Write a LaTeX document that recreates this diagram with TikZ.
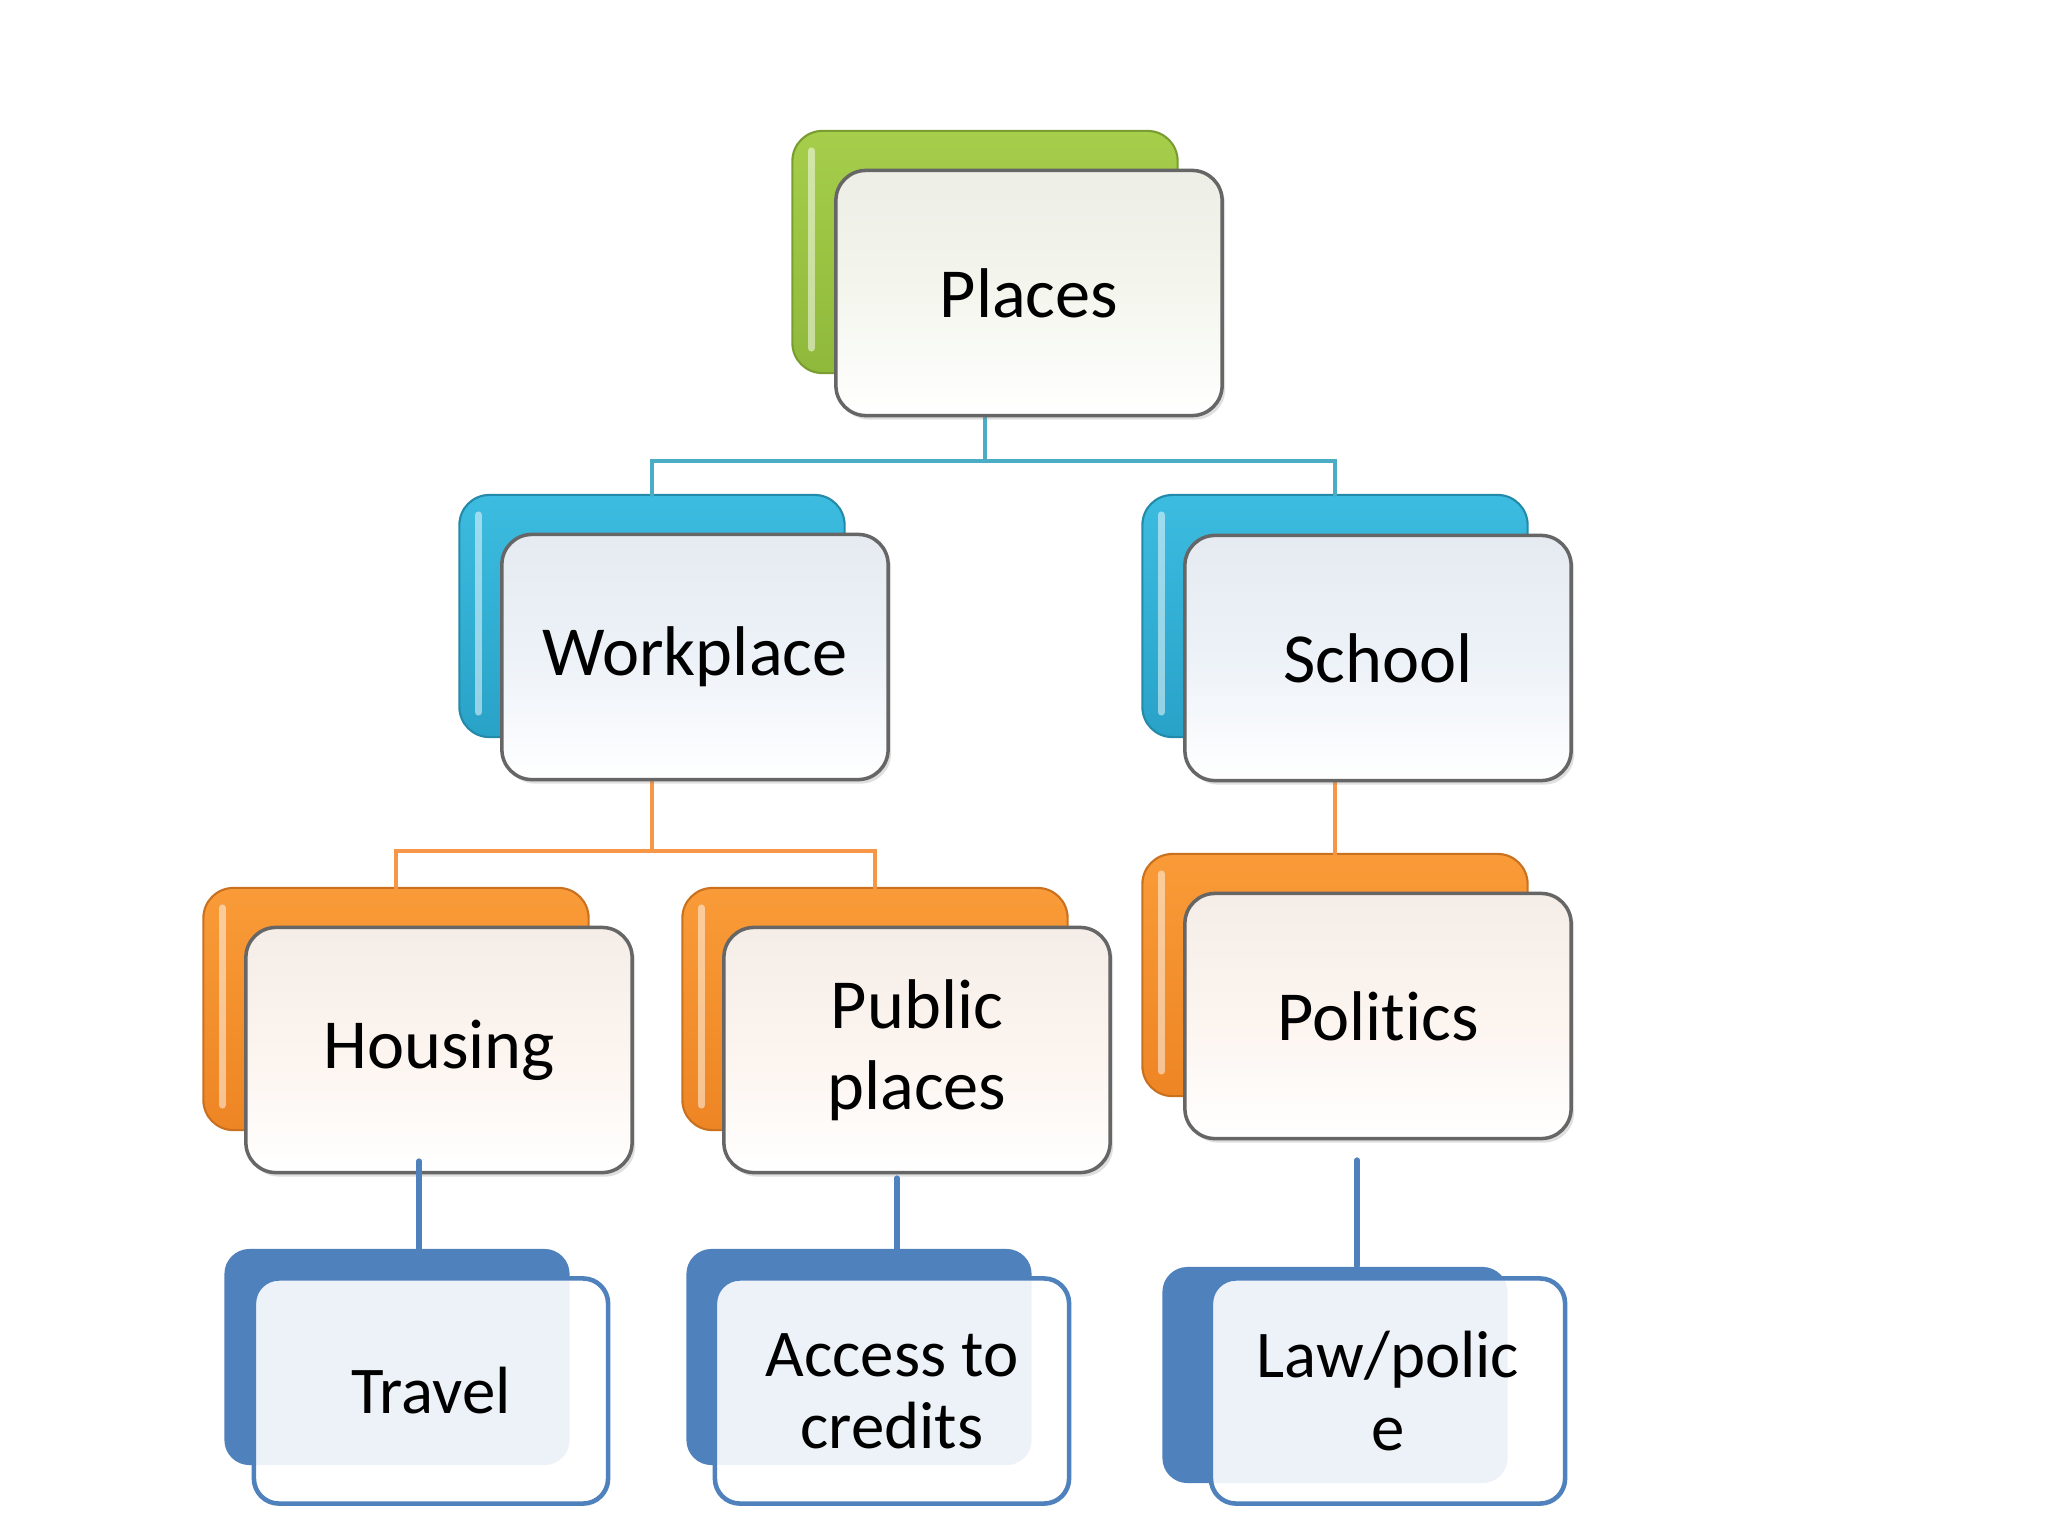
\documentclass[tikz,border=0pt]{standalone}
\usepackage{fontspec}
\setmainfont{Carlito}[Ligatures = NoCommon]
\usetikzlibrary{shadows}

\definecolor{placesgreen}{HTML}{A6CE4B}
\definecolor{placesgreendark}{HTML}{8FB93B}
\definecolor{tierblue}{HTML}{3CBCE0}
\definecolor{tierbluedark}{HTML}{29A2C8}
\definecolor{tierorange}{HTML}{F99B38}
\definecolor{tierorangedark}{HTML}{EE8524}
\definecolor{leafblue}{HTML}{4F81BD}
\definecolor{linkblue}{HTML}{4BACC6}
\definecolor{linkorange}{HTML}{F79646}
\definecolor{greentint}{HTML}{F4F6EE}
\definecolor{bluetint}{HTML}{EDF2F8}
\definecolor{orangetint}{HTML}{FCF4EF}

\begin{document}
\begin{tikzpicture}[%
        x = 0.01cm,
        y = -0.01cm,
        line cap = round,
        backcard/.style 2 args = {
            rounded corners = 0.3cm,
            minimum width = 3.85cm, minimum height = 2.42cm,
            inner sep = 0pt, outer sep = 0pt,
            top color = #1, bottom color = #2,
            draw = #2!85!black, line width = 0.6pt
        },
        frontcard/.style = {
            rounded corners = 0.3cm,
            minimum width = 3.86cm, minimum height = 2.45cm,
            inner sep = 0pt, outer sep = 0pt,
            top color = #1!97!black, bottom color = white, middle color = #1,
            draw = black!60, line width = 1pt,
            drop shadow = {shadow xshift = 0.03cm, shadow yshift = -0.04cm, opacity = 0.25},
            font = \fontsize{20}{23}\selectfont, align = center
        },
        leafback/.style = {
            rounded corners = 0.25cm,
            minimum width = 3.45cm, minimum height = 2.16cm,
            inner sep = 0pt, outer sep = 0pt,
            fill = leafblue
        },
        leafcard/.style = {
            rounded corners = 0.25cm,
            minimum width = 3.54cm, minimum height = 2.25cm,
            inner sep = 0pt, outer sep = 0pt,
            draw = leafblue, line width = 1.3pt,
            fill = white, fill opacity = 0.9, text opacity = 1,
            font = \fontsize{19}{20.5}\selectfont, align = center
        },
        gloss/.style = {draw = white, opacity = 0.5, line width = 2pt},
        treelink/.style = {draw = #1, line width = 1.1pt},
        leaflink/.style = {draw = leafblue, line width = 1.5pt}
    ]

        % Page frame with the margins of the slide.
        \path[use as bounding box, fill = white] (0, 0) rectangle (2048, 1536);

        % Coloured back cards of the upper three levels.
        \node[backcard = {placesgreen}{placesgreendark}] (placesback) at (985, 252) {};
        \node[backcard = {tierblue}{tierbluedark}] (workback) at (652, 616) {};
        \node[backcard = {tierblue}{tierbluedark}] (schoolback) at (1335, 616) {};
        \node[backcard = {tierorange}{tierorangedark}] (housingback) at (396, 1009) {};
        \node[backcard = {tierorange}{tierorangedark}] (publicback) at (875, 1009) {};
        \node[backcard = {tierorange}{tierorangedark}] (politicsback) at (1335, 975) {};

        % Light strip along the left edge of each back card.
        \foreach \card in {placesback, workback, schoolback, housingback, publicback, politicsback}
            \draw[gloss] ([xshift = 0.19cm, yshift = -0.2cm]\card.north west)
                -- ([xshift = 0.19cm, yshift = 0.25cm]\card.south west);

        % Tree connectors between the back cards.
        \draw[treelink = linkblue] (placesback.south) -- ++(0, 88) -| (workback.north);
        \draw[treelink = linkblue] (placesback.south) -- ++(0, 88) -| (schoolback.north);
        \draw[treelink = linkorange] (workback.south) -- ++(0, 114) -| (housingback.north);
        \draw[treelink = linkorange] (workback.south) -- ++(0, 114) -| (publicback.north);
        \draw[treelink = linkorange] (schoolback.south) -- (politicsback.north);

        % Front cards with the labels.
        \node[frontcard = greentint] (places) at (1029, 293) {Places};
        \node[frontcard = bluetint] (work) at (695, 657) {Workplace};
        \node[frontcard = bluetint] (school) at (1378, 658) {School};
        \node[frontcard = orangetint] (housing) at (439, 1050) {Housing};
        \node[frontcard = orangetint] (public) at (917, 1050) {Public\\places};
        \node[frontcard = orangetint] (politics) at (1378, 1016) {Politics};

        % Bottom level: flat blue back cards.
        \node[leafback] (travelback) at (397, 1357) {};
        \node[leafback] (accessback) at (859, 1357) {};
        \node[leafback] (lawback) at (1335, 1375) {};

        % Links down to the bottom level.
        \coordinate (housingout) at (419, 1161);
        \coordinate (travelin) at (419, 1262);
        \coordinate (publicout) at (897, 1178);
        \coordinate (accessin) at (897, 1272);
        \coordinate (politicsout) at (1357, 1160);
        \coordinate (lawin) at (1357, 1266);
        \draw[leaflink] (housingout) -- (travelin);
        \draw[leaflink] (publicout) -- (accessin);
        \draw[leaflink] (politicsout) -- (lawin);

        % Bottom level front cards.
        \node[leafcard] (travel) at (431, 1391) {Travel};
        \node[leafcard] (access) at (892, 1391) {Access to\\credits};
        \node[leafcard] (law) at (1388, 1391) {Law/polic\\e};
    \end{tikzpicture}
\end{document}
